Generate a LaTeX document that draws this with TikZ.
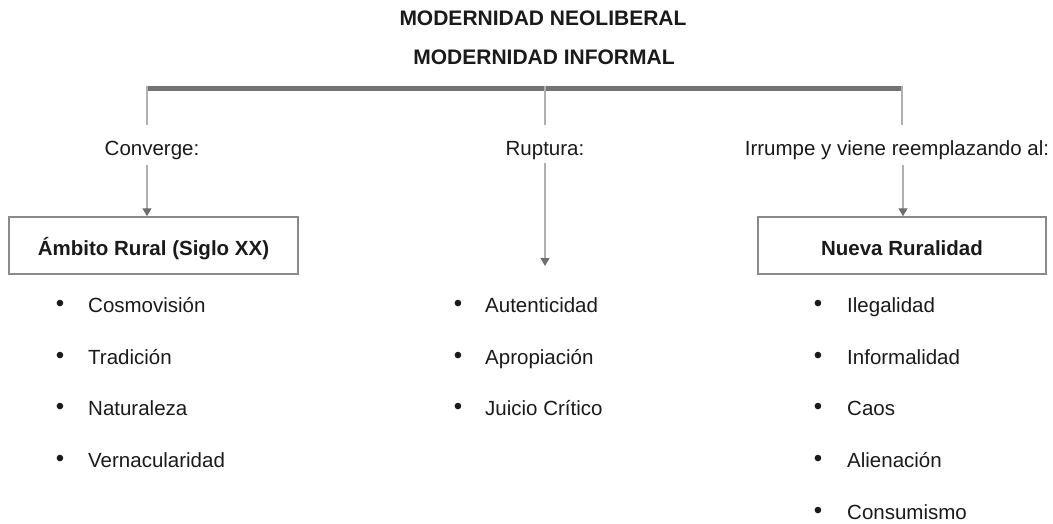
\documentclass[tikz,border=0pt]{standalone}
\usepackage{fontspec}
\setmainfont{Liberation Sans}
\usetikzlibrary{arrows.meta}
\definecolor{txtc}{HTML}{1A1A1A}
\definecolor{barc}{HTML}{737373}
\definecolor{linec}{HTML}{B0B0B0}
\definecolor{tipc}{HTML}{6E6E6E}
\definecolor{boxc}{HTML}{8A8A8A}
\tikzset{
  ttl/.style={font=\fontsize{21}{24}\bfseries\selectfont, text=txtc, inner sep=0pt, anchor=base},
  lbl/.style={font=\fontsize{20.5}{24}\selectfont, text=txtc, inner sep=0pt, anchor=base},
  item/.style={font=\fontsize{20.5}{24}\selectfont, text=txtc, inner sep=0pt, anchor=base west},
  bul/.style={font=\fontsize{24}{24}\selectfont, text=txtc, inner sep=0pt, anchor=base},
  hbox/.style={draw=boxc, line width=1.5pt, font=\fontsize{20.5}{24}\bfseries\selectfont, text=txtc, minimum height=57pt, inner sep=0pt, text height=20pt, text depth=0pt},
  bar/.style={draw=barc, line width=5pt},
  thin/.style={draw=linec, line width=1.3pt},
  arr/.style={draw=linec, line width=1.3pt, -{Triangle[length=8pt,width=9pt,color=tipc]}}
}
\begin{document}
\begin{tikzpicture}[x=1pt,y=-1pt]
\useasboundingbox (0,0) rectangle (1053,523);
% titles (base line positions)
\node[ttl] (t1) at (543,25) {MODERNIDAD NEOLIBERAL};
\node[ttl] (t2) at (544,64) {MODERNIDAD INFORMAL};
% bar
\coordinate (bL) at (147,88);
\coordinate (bM) at (545,88);
\coordinate (bR) at (902,88);
\draw[bar] ([xshift=-0.7pt]bL) -- ([xshift=0.7pt]bR);
\coordinate (eL) at (147,125);
\coordinate (eM) at (545,125);
\coordinate (eR) at (902,125);
\draw[thin] ([yshift=2pt]bL) -- (eL);
\draw[thin] ([yshift=2pt]bM) -- (eM);
\draw[thin] ([yshift=2pt]bR) -- (eR);
% labels
\node[lbl] (l1) at (152,155) {Converge:};
\node[lbl] (l2) at (545,155) {Ruptura:};
\node[lbl] (l3) at (897,155) {Irrumpe y viene reemplazando al:};
% boxes
\node[hbox, minimum width=289pt] (b1) at (153.5,245.5) {Ámbito Rural (Siglo XX)};
\node[hbox, minimum width=288pt] (b3) at (902,245.5) {Nueva Ruralidad};
% arrows
\coordinate (s1) at (147,165);
\coordinate (s2) at (545,163);
\coordinate (s3) at (903,165);
\coordinate (e2) at (545,266);
\draw[arr] (s1) -- (s1 |- b1.north);
\draw[arr] (s2) -- (e2);
\draw[arr] (s3) -- (s3 |- b3.north);
% left list
\node[bul] (p11) at (60,311) {•};
\node[item] (i11) at (88,312) {Cosmovisión};
\node[bul] (p12) at (60,363) {•};
\node[item] (i12) at (88,364) {Tradición};
\node[bul] (p13) at (60,414) {•};
\node[item] (i13) at (88,415) {Naturaleza};
\node[bul] (p14) at (60,466) {•};
\node[item] (i14) at (88,467) {Vernacularidad};
% middle list
\node[bul] (p21) at (458,311) {•};
\node[item] (i21) at (485,312) {Autenticidad};
\node[bul] (p22) at (458,363) {•};
\node[item] (i22) at (485,364) {Apropiación};
\node[bul] (p23) at (458,414) {•};
\node[item] (i23) at (485,415) {Juicio Crítico};
% right list
\node[bul] (p31) at (818,311) {•};
\node[item] (i31) at (847,312) {Ilegalidad};
\node[bul] (p32) at (818,363) {•};
\node[item] (i32) at (847,364) {Informalidad};
\node[bul] (p33) at (818,414) {•};
\node[item] (i33) at (847,415) {Caos};
\node[bul] (p34) at (818,466) {•};
\node[item] (i34) at (847,467) {Alienación};
\node[bul] (p35) at (818,518) {•};
\node[item] (i35) at (847,519) {Consumismo};
\end{tikzpicture}
\end{document}
